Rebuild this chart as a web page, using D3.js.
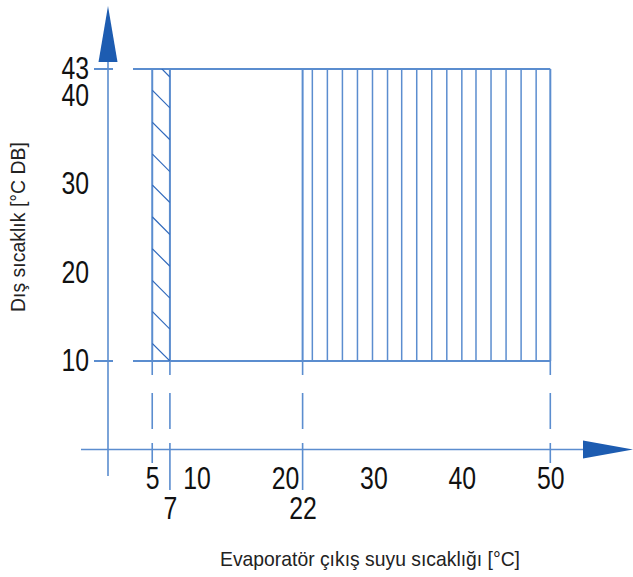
<!DOCTYPE html>
<html><head><meta charset="utf-8">
<script src="https://cdn.jsdelivr.net/npm/d3@7"></script>
<style>
html,body{margin:0;padding:0;background:#fff;}
svg{display:block;}
</style></head>
<body>
<svg id="c" width="633" height="577"></svg>
<script>
// ---- data ----
const xTicksRow1 = [5, 10, 20, 30, 40, 50];
const xTicksRow2 = [7, 22];
const yTicks = [10, 20, 30, 40, 43];
const zoneA = {x0: 5, x1: 7, y0: 10, y1: 43};     // diagonal hatched zone
const zoneB = {x0: 22, x1: 50, y0: 10, y1: 43};   // vertical hatched zone
const zoneAHatchY = [10, 13.6, 17.1, 20.7, 24.3, 27.9, 31.4, 35.0, 38.6, 42.1]; // y at right edge (x=7)
const zoneBHatchX = [23.1, 24.8, 26.5, 28.2, 29.9, 31.6, 33.2, 34.9, 36.6, 38.3, 40.0, 41.6, 43.3, 45.0, 46.7, 48.4];
const dashedX = [5, 7, 22, 50];
const dashedLong = [7, 22];
const xTitle = "Evaporatör çıkış suyu sıcaklığı [°C]";
const yTitle = "Dış sıcaklık [°C DB]";

const svg = d3.select("#c");
const x = d3.scaleLinear().domain([0, 50]).range([108, 550.3]);
const y = d3.scaleLinear().domain([0, 43]).range([449.5, 69]);

const lineCol = "#5b8dcf";
const hatchCol = "#2f68bb";
const arrowCol = "#1d5cb1";
const font = "'Liberation Sans',Arial,sans-serif";

function condense(sel, ratio) {
  sel.each(function () {
    const w = this.getComputedTextLength();
    d3.select(this).attr("textLength", w * ratio).attr("lengthAdjust", "spacingAndGlyphs");
  });
}

// ---- axes lines ----
svg.append("line").attr("x1", x(0)).attr("x2", x(0)).attr("y1", 40).attr("y2", 476)
  .attr("stroke", lineCol).attr("stroke-width", 1.6);
svg.append("line").attr("x1", 81).attr("x2", 600).attr("y1", y(0)).attr("y2", y(0))
  .attr("stroke", lineCol).attr("stroke-width", 1.6);
// arrows
svg.append("path").attr("d", `M${x(0)},6 L${x(0)+9.5},62 L${x(0)-9.5},62 Z`).attr("fill", arrowCol);
svg.append("path").attr("d", `M633,${y(0)} L583,${y(0)-9} L583,${y(0)+9} Z`).attr("fill", arrowCol);

// ---- horizontal limit lines at 43 and 10 (with short tick + gap) ----
[zoneA.y1, zoneA.y0].forEach(v => {
  svg.append("line").attr("x1", 94).attr("x2", 113).attr("y1", y(v)).attr("y2", y(v))
    .attr("stroke", lineCol).attr("stroke-width", 2);
  svg.append("line").attr("x1", 133).attr("x2", x(zoneB.x1)).attr("y1", y(v)).attr("y2", y(v))
    .attr("stroke", lineCol).attr("stroke-width", 2);
});

// ---- zone borders ----
[zoneA.x0, zoneA.x1, zoneB.x0, zoneB.x1].forEach(v => {
  svg.append("line").attr("x1", x(v)).attr("x2", x(v)).attr("y1", y(43)).attr("y2", y(10))
    .attr("stroke", lineCol).attr("stroke-width", 2);
});

// ---- zone A diagonal hatching (clipped) ----
svg.append("clipPath").attr("id", "clipA").append("rect")
  .attr("x", x(zoneA.x0)).attr("y", y(zoneA.y1))
  .attr("width", x(zoneA.x1) - x(zoneA.x0)).attr("height", y(zoneA.y0) - y(zoneA.y1));
svg.append("g").attr("clip-path", "url(#clipA)").selectAll("line").data(zoneAHatchY).join("line")
  .attr("x1", x(zoneA.x0)).attr("y1", d => y(d + (zoneA.x1 - zoneA.x0)))
  .attr("x2", x(zoneA.x1)).attr("y2", d => y(d))
  .attr("stroke", hatchCol).attr("stroke-width", 1.2);

// ---- zone B vertical hatching ----
svg.append("g").selectAll("line").data(zoneBHatchX).join("line")
  .attr("x1", d => x(d)).attr("x2", d => x(d)).attr("y1", y(zoneB.y1)).attr("y2", y(zoneB.y0))
  .attr("stroke", lineCol).attr("stroke-width", 1.5);

// ---- dashed drop lines ----
svg.append("g").selectAll("line").data(dashedX).join("line")
  .attr("x1", d => x(d)).attr("x2", d => x(d)).attr("y1", y(10))
  .attr("y2", d => dashedLong.includes(d) ? 490 : 463)
  .attr("stroke", lineCol).attr("stroke-width", 1.6)
  .attr("stroke-dasharray", "14,18,36,14,60");

// ---- tick labels ----
const yAxis = d3.axisLeft(y).tickValues(yTicks).tickSize(0).tickPadding(19);
const gy = svg.append("g").attr("transform", `translate(${x(0)},0)`).call(yAxis);
gy.select(".domain").remove();
gy.selectAll("text").attr("font-family", font).attr("font-size", 31).attr("fill", "#111").call(condense, 0.8);

const xAxis1 = d3.axisBottom(x).tickValues(xTicksRow1).tickSize(0).tickPadding(17);
const gx1 = svg.append("g").attr("transform", `translate(0,${y(0)})`).call(xAxis1);
gx1.select(".domain").remove();
gx1.selectAll("text").attr("font-family", font).attr("font-size", 31).attr("fill", "#111").call(condense, 0.8);

const xAxis2 = d3.axisBottom(x).tickValues(xTicksRow2).tickSize(0).tickPadding(47);
const gx2 = svg.append("g").attr("transform", `translate(0,${y(0)})`).call(xAxis2);
gx2.select(".domain").remove();
gx2.selectAll("text").attr("font-family", font).attr("font-size", 31).attr("fill", "#111").call(condense, 0.8);

// ---- titles ----
svg.append("text").attr("x", 370).attr("y", 566).attr("text-anchor", "middle")
  .attr("font-family", font).attr("font-size", 21).attr("fill", "#222")
  .attr("textLength", 300).attr("lengthAdjust", "spacingAndGlyphs")
  .text(xTitle);
svg.append("text").attr("transform", "translate(25,227) rotate(-90)").attr("text-anchor", "middle")
  .attr("font-family", font).attr("font-size", 21).attr("fill", "#222")
  .attr("textLength", 170).attr("lengthAdjust", "spacingAndGlyphs")
  .text(yTitle);
</script>
</body></html>
